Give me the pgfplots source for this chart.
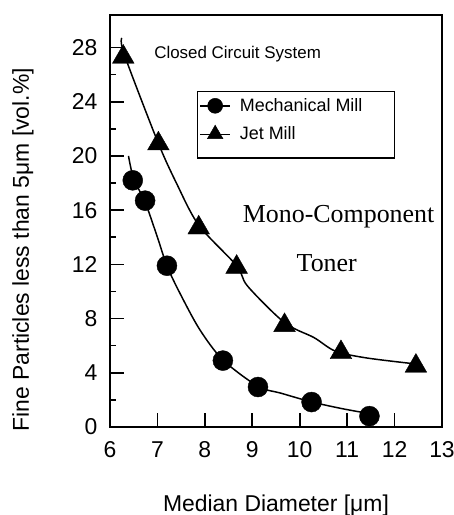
\documentclass[border=0pt]{standalone}
\usepackage{pgfplots}
\pgfplotsset{compat=1.18}
\usepackage{fontspec}
\setmainfont{Liberation Sans}
\newfontfamily\serifx{Liberation Serif}
\def\legdepth{0bp}
\tikzset{legdepth/.store in=\legdepth}
\begin{document}
\begin{tikzpicture}
\begin{axis}[
  scale only axis,
  width=332bp, height=412bp,
  xmin=6, xmax=13, ymin=0, ymax=30.4,
  xtick={6,7,...,13}, ytick={0,4,...,28},
  minor ytick={2,6,...,26},
  tick pos=left, tick align=inside,
  major tick length=14bp, minor tick length=6bp,
  every tick/.style={black, line width=1.6pt},
  axis line style={line width=1.6pt},
  tick label style={font=\fontsize{23}{26}\selectfont},
  yticklabel style={xshift=-9bp},
  xticklabel style={yshift=-11bp},
  /pgf/number format/assume math mode=true,
  xlabel={Median Diameter [μm]},
  ylabel={Fine Particles less than 5μm [vol.\%]},
  label style={font=\fontsize{23}{26}\selectfont},
  xlabel style={at={(axis description cs:0.5,-0.19)}, anchor=center},
  ylabel style={at={(axis description cs:-0.262,0.43)}, anchor=center},
  legend style={at={(axis cs:7.83,24.8)}, anchor=north west, draw=black, line width=1.4pt,
    font=\fontsize{18}{21}\selectfont, inner xsep=2pt, inner ysep=5pt, row sep=10pt},
  legend cell align=left,
  legend image code/.code={\draw[#1, mark repeat=2, mark phase=2] plot coordinates {(0bp,0bp) (15bp,0bp) (30bp,0bp)} (0bp,-\legdepth) (37bp,0bp);},
  clip=true,
]
\addlegendimage{black, line width=1.4pt, mark=*, mark size=7.5bp, mark options={line width=0.5pt}}
\addlegendentry{Mechanical Mill\rule{28bp}{0pt}}
\addlegendimage{black, line width=1.4pt, mark=triangle*, mark size=9bp, mark options={line width=0.5pt}, legdepth=18bp}
\addlegendentry{Jet Mill}
% fitted curves
\addplot[black, line width=1.5pt, smooth, tension=0.5, forget plot] coordinates {
  (6.39,20.0) (6.5,18.3) (6.74,16.6) (7.0,14.0) (7.2,11.9) (7.47,9.9) (7.89,7.2) (8.38,4.95) (9.12,3.0) (9.6,2.5) (10.25,1.85) (10.9,1.35) (11.45,1.0)
};
\addplot[black, line width=1.5pt, smooth, tension=0.5, forget plot] coordinates {
  (6.25,28.7) (6.3,27.5) (7.0,21.1) (7.4,18.0) (7.87,14.9) (8.67,11.9) (8.9,10.4) (9.68,7.7) (10.3,6.6) (10.75,5.6) (11.4,5.1) (12.45,4.65)
};
% markers
\addplot[only marks, mark=*, mark size=10bp, black, forget plot] coordinates {
  (6.48,18.2) (6.74,16.7) (7.2,11.9) (8.38,4.9) (9.12,2.95) (10.25,1.84) (11.47,0.8)
};
\addplot[only marks, mark=triangle*, mark size=12.5bp, black, forget plot] coordinates {
  (6.28,27.3) (7.02,20.9) (7.87,14.7) (8.67,11.8) (9.68,7.5) (10.87,5.5) (12.45,4.5)
};
\node[anchor=west, font=\fontsize{17}{19}\selectfont] at (axis cs:6.86,27.5) {Closed Circuit System};
\node[font=\serifx\fontsize{26}{28}\selectfont] at (axis cs:10.82,15.5) {Mono-Component};
\node[font=\serifx\fontsize{26}{28}\selectfont] at (axis cs:10.57,12.1) {Toner};
\end{axis}
\pgfresetboundingbox
\path (current axis.south west) ++(-110bp,-88bp) coordinate (bl);
\path (current axis.north east) ++(12bp,15bp) coordinate (tr);
\useasboundingbox (bl) rectangle (tr);
\end{tikzpicture}
\end{document}
